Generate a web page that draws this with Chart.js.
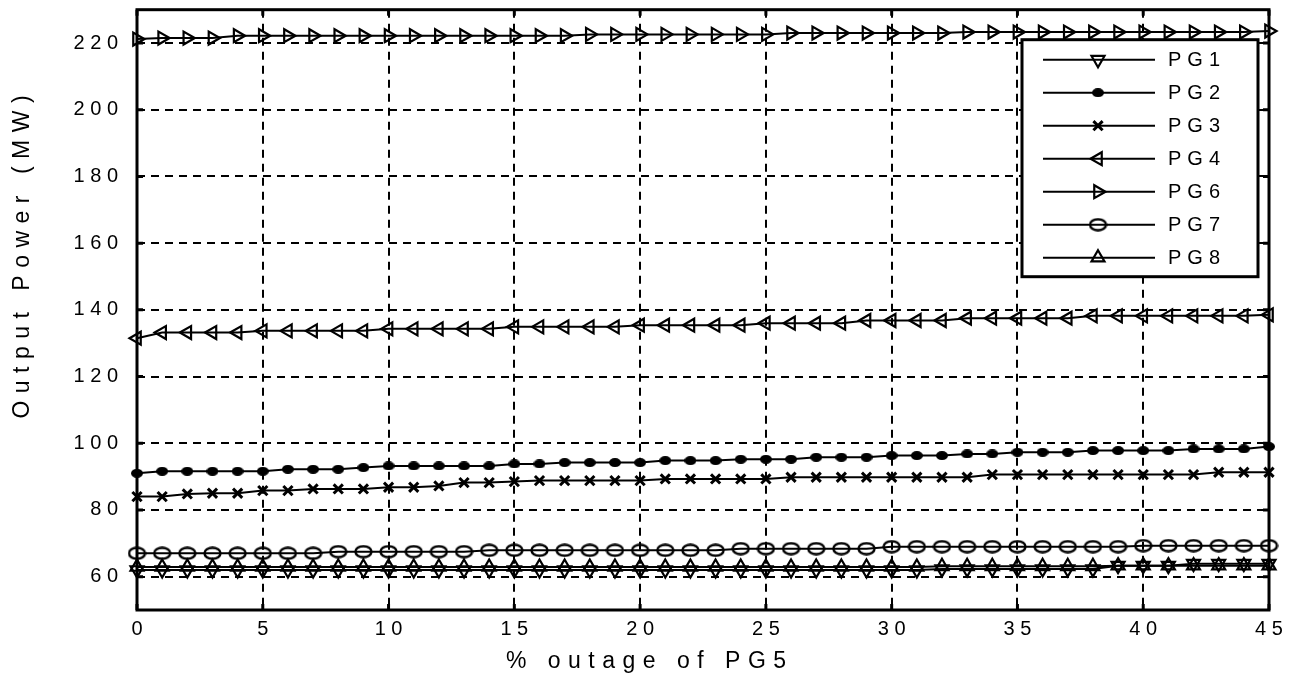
<!DOCTYPE html>
<html lang="en">
<head>
<meta charset="UTF-8">
<title>Output power vs outage of PG5</title>
<script src="https://cdn.jsdelivr.net/npm/chart.js@4.4.1/dist/chart.umd.min.js"></script>
<style>
  html, body { margin: 0; padding: 0; background: #fff; }
  #wrap { width: 1293px; height: 678px; position: relative; }
</style>
</head>
<body>
<div id="wrap"><canvas id="myCanvas"></canvas></div>
<script>
// x axis: % outage of PG5
const outage = [0,1,2,3,4,5,6,7,8,9,10,11,12,13,14,15,16,17,18,19,20,21,22,23,24,25,26,27,28,29,30,31,32,33,34,35,36,37,38,39,40,41,42,43,44,45];

const pg1 = [62.0,62.0,62.0,62.0,62.0,62.0,62.0,62.0,62.0,62.0,62.0,62.0,62.0,62.0,62.0,62.0,62.0,62.0,62.0,62.0,62.0,62.0,62.0,62.0,62.0,62.0,62.0,62.0,62.0,62.0,62.0,62.0,62.3,62.3,62.3,62.3,62.3,62.3,62.3,63.3,63.3,63.3,63.9,63.9,63.9,63.9];
const pg2 = [91.0,91.6,91.6,91.6,91.6,91.6,92.2,92.2,92.2,92.7,93.2,93.2,93.2,93.2,93.2,93.8,93.8,94.2,94.2,94.2,94.2,94.8,94.8,94.8,95.2,95.2,95.2,95.8,95.8,95.8,96.3,96.3,96.3,96.8,96.8,97.3,97.3,97.3,97.8,97.8,97.8,97.8,98.3,98.3,98.3,99.0];
const pg3 = [84.0,84.0,84.8,85.0,85.0,85.8,85.8,86.3,86.3,86.3,86.8,86.8,87.2,88.2,88.2,88.5,88.8,88.8,88.8,88.8,88.8,89.3,89.3,89.3,89.3,89.3,89.8,89.8,89.8,89.8,89.8,89.8,89.8,89.8,90.6,90.6,90.6,90.6,90.6,90.6,90.6,90.6,90.6,91.3,91.3,91.3];
const pg4 = [131.5,133.2,133.2,133.2,133.2,133.7,133.7,133.7,133.7,133.7,134.3,134.3,134.3,134.3,134.3,134.9,134.9,134.9,134.9,134.9,135.4,135.4,135.4,135.4,135.4,136.0,136.0,136.0,136.0,136.8,136.8,136.8,136.8,137.5,137.5,137.5,137.5,137.5,138.2,138.2,138.2,138.2,138.2,138.2,138.2,138.5];
const pg6 = [221.2,221.5,221.5,221.5,222.2,222.2,222.2,222.2,222.2,222.2,222.2,222.2,222.2,222.2,222.2,222.2,222.2,222.2,222.6,222.6,222.6,222.6,222.6,222.6,222.6,222.6,223.0,223.0,223.0,223.0,223.0,223.0,223.0,223.3,223.3,223.3,223.3,223.3,223.3,223.3,223.3,223.3,223.3,223.3,223.3,223.6];
const pg7 = [67.0,67.0,67.0,67.0,67.0,67.0,67.0,67.0,67.5,67.5,67.5,67.5,67.5,67.5,67.9,67.9,67.9,67.9,67.9,67.9,67.9,67.9,67.9,67.9,68.4,68.4,68.4,68.4,68.4,68.4,69.0,69.0,69.0,69.0,69.0,69.0,69.0,69.0,69.0,69.0,69.3,69.3,69.3,69.3,69.3,69.3];
const pg8 = [62.9,62.9,62.9,62.9,62.9,62.9,62.9,62.9,62.9,62.9,62.9,62.9,62.9,62.9,62.9,62.9,62.9,62.9,62.9,62.9,62.9,62.9,62.9,62.9,62.9,62.9,62.9,62.9,62.9,62.9,62.9,62.9,63.1,63.1,63.1,63.1,63.1,63.1,63.1,63.3,63.3,63.3,63.3,63.3,63.3,63.3];

const seriesNames = ['PG1', 'PG2', 'PG3', 'PG4', 'PG6', 'PG7', 'PG8'];
const xTicks = [0, 5, 10, 15, 20, 25, 30, 35, 40, 45];
const yTicks = [60, 80, 100, 120, 140, 160, 180, 200, 220];

const FONT = 'Liberation Sans, Arial, sans-serif';
const spaced = v => String(v).split('').join(' ');

// open ellipse marker (PG7) and small filled dot (PG2)
function makeEllipse(w, h, filled) {
    const c = document.createElement('canvas');
    c.width = w; c.height = h;
    const g = c.getContext('2d');
    g.beginPath();
    if (filled) {
        g.ellipse(w / 2, h / 2, w / 2, h / 2, 0, 0, Math.PI * 2);
        g.fillStyle = '#000'; g.fill();
    } else {
        g.ellipse(w / 2, h / 2, w / 2 - 1.5, h / 2 - 1.5, 0, 0, Math.PI * 2);
        g.lineWidth = 2.4; g.strokeStyle = '#000'; g.stroke();
    }
    return c;
}
const ellipseImg = makeEllipse(19, 14, false);
const dotImg = makeEllipse(12, 9, true);

function ds(label, data, style, rot, radius, bw) {
    return {
        label: label, data: data,
        borderColor: '#000', borderWidth: 2,
        pointStyle: style, pointRotation: rot, pointRadius: radius,
        pointBorderColor: '#000', pointBackgroundColor: 'rgba(0,0,0,0)',
        pointBorderWidth: bw, tension: 0, fill: false, clip: false
    };
}

// frame + inward tick marks
const framePlugin = {
    id: 'frame',
    beforeDatasetsDraw(chart) {
        const { ctx, chartArea: a, scales } = chart;
        ctx.save();
        ctx.setLineDash([]);
        ctx.strokeStyle = '#000';
        ctx.lineWidth = 3;
        ctx.strokeRect(a.left, a.top, a.right - a.left, a.bottom - a.top);
        ctx.beginPath();
        xTicks.forEach(v => {
            const px = scales.x.getPixelForValue(v);
            ctx.moveTo(px, a.top); ctx.lineTo(px, a.top + 6);
            ctx.moveTo(px, a.bottom); ctx.lineTo(px, a.bottom - 6);
        });
        yTicks.forEach(v => {
            const py = scales.y.getPixelForValue(v);
            ctx.moveTo(a.left, py); ctx.lineTo(a.left + 6, py);
            ctx.moveTo(a.right, py); ctx.lineTo(a.right - 6, py);
        });
        ctx.stroke();
        ctx.restore();
    }
};

// boxed legend inside the plot, line + marker + label
const legendPlugin = {
    id: 'boxLegend',
    afterDatasetsDraw(chart) {
        const { ctx, chartArea: a } = chart;
        const w = 236, h = 237;
        const bx = a.right - 11 - w, by = a.top + 30;
        ctx.save();
        ctx.setLineDash([]);
        ctx.fillStyle = '#fff';
        ctx.fillRect(bx, by, w, h);
        ctx.strokeStyle = '#000';
        ctx.lineWidth = 3;
        ctx.strokeRect(bx, by, w, h);
        chart.data.datasets.forEach((d, i) => {
            const y = by + 20 + i * 33;
            ctx.lineWidth = 2;
            ctx.beginPath();
            ctx.moveTo(bx + 21, y); ctx.lineTo(bx + 133, y);
            ctx.stroke();
            ctx.fillStyle = 'rgba(0,0,0,0)';
            ctx.lineWidth = d.pointBorderWidth;
            Chart.helpers.drawPoint(ctx, {
                pointStyle: d.pointStyle, rotation: d.pointRotation,
                radius: d.pointRadius, borderWidth: d.pointBorderWidth
            }, bx + 76, y);
            ctx.fillStyle = '#000';
            ctx.font = '20px ' + FONT;
            ctx.letterSpacing = '6px';
            ctx.textAlign = 'left';
            ctx.textBaseline = 'middle';
            ctx.fillText(d.label, bx + 146, y + 1);
            ctx.letterSpacing = '0px';
        });
        ctx.restore();
    }
};

// axis titles, letter-spaced like the original figure
const titlePlugin = {
    id: 'axisTitles',
    afterDraw(chart) {
        const { ctx } = chart;
        const ls = 7.5;
        ctx.save();
        ctx.fillStyle = '#000';
        ctx.font = '23px ' + FONT;
        ctx.letterSpacing = ls + 'px';
        ctx.textAlign = 'center';
        ctx.textBaseline = 'middle';
        ctx.fillText('% outage of PG5', 646 + ls / 2, 662);
        ctx.translate(23, 257);
        ctx.rotate(-Math.PI / 2);
        ctx.fillText('Output Power (MW)', ls / 2, 0);
        ctx.restore();
    }
};

const ctx = document.getElementById('myCanvas').getContext('2d');
const myChart = new Chart(ctx, {
    type: 'line',
    data: {
        labels: outage,
        datasets: [
            ds(seriesNames[0], pg1, 'triangle', 180, 7.5, 2.2),
            ds(seriesNames[1], pg2, dotImg, 0, 4, 2),
            ds(seriesNames[2], pg3, 'crossRot', 0, 6.5, 3),
            ds(seriesNames[3], pg4, 'triangle', -90, 7.5, 2.2),
            ds(seriesNames[4], pg6, 'triangle', 90, 7.5, 2.2),
            ds(seriesNames[5], pg7, ellipseImg, 0, 7, 2),
            ds(seriesNames[6], pg8, 'triangle', 0, 7.5, 2.2)
        ]
    },
    options: {
        responsive: true,
        maintainAspectRatio: false,
        animation: false,
        layout: { padding: { left: 0, right: 24, top: 9, bottom: 0 } },
        plugins: { legend: { display: false }, tooltip: { enabled: false } },
        scales: {
            x: {
                type: 'linear', min: 0, max: 45,
                afterBuildTicks: s => { s.ticks = xTicks.map(v => ({ value: v })); },
                afterFit: s => { s.height = 68; s.paddingLeft = 0; s.paddingRight = 0; },
                grid: { color: '#000', lineWidth: 2, drawTicks: false },
                border: { display: false, dash: [8, 6] },
                ticks: {
                    color: '#000', font: { family: FONT, size: 20 }, padding: 7,
                    maxRotation: 0, autoSkip: false, callback: v => spaced(v)
                }
            },
            y: {
                min: 50, max: 230,
                afterBuildTicks: s => { s.ticks = yTicks.map(v => ({ value: v })); },
                afterFit: s => { s.width = 137; s.paddingTop = 0; s.paddingBottom = 0; },
                grid: { color: '#000', lineWidth: 2, drawTicks: false },
                border: { display: false, dash: [8, 6] },
                ticks: {
                    color: '#000', font: { family: FONT, size: 20 }, padding: 19,
                    callback: v => spaced(v)
                }
            }
        }
    },
    plugins: [framePlugin, legendPlugin, titlePlugin]
});
</script>
</body>
</html>
